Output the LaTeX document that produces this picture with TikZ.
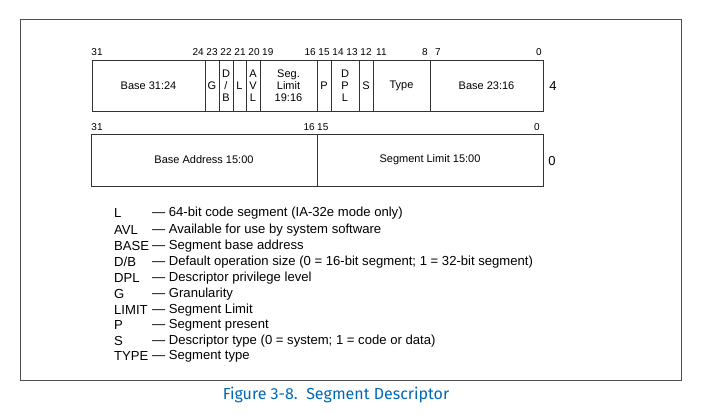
\documentclass[tikz,border=0pt]{standalone}
\usepackage{fontspec}
\setmainfont{Liberation Sans}
\newfontfamily\capfont{Fira Sans}
\definecolor{capblue}{RGB}{0,104,181}
\begin{document}
\begin{tikzpicture}[x=1pt,y=-1pt,
  fld/.style={draw=black!80,line width=0.6pt,inner sep=0pt,align=center,font=\fontsize{11}{12}\selectfont},
  bit/.style={font=\fontsize{10}{10}\selectfont,inner sep=0pt},
  leg/.style={font=\fontsize{13.1}{14}\selectfont,inner sep=0pt,anchor=west}]
\useasboundingbox (0,0) rectangle (703,414);
\node[draw=black!70,line width=0.6pt,minimum width=661pt,minimum height=361pt,inner sep=0pt] (frame) at (350.5,199.5) {};
\newcommand\fieldbox[4]{\node[fld,minimum width=#2-#1,minimum height=51pt] (#3) at ({(#1+#2)/2},85.5) {#4};}
\fieldbox{92}{205}{b3124}{Base 31:24}
\fieldbox{205}{219}{g}{G}
\fieldbox{219}{233}{db}{D\\/\\B}
\fieldbox{233}{246}{l}{L}
\fieldbox{246}{260}{avl}{A\\V\\L}
\fieldbox{260}{317}{lim}{Seg.\\Limit\\19:16}
\fieldbox{317}{331}{p}{P}
\fieldbox{331}{359}{dpl}{D\\P\\L}
\fieldbox{359}{373}{s}{S}
\fieldbox{373}{430}{type}{Type}
\fieldbox{430}{543}{b2316}{Base 23:16}
\node[font=\fontsize{13}{13}\selectfont] (four) at (553,86) {4};
\node[fld,minimum width=226pt,minimum height=52pt] (ba) at (204,160) {Base Address 15:00};
\node[fld,minimum width=226pt,minimum height=52pt] (sl) at (430,160) {Segment Limit 15:00};
\node[font=\fontsize{13}{13}\selectfont] (zero) at (552,161) {0};
\node[bit] (t31) at (97,52) {31};
\node[bit,anchor=east] (t24) at (204,52) {24};
\node[bit] (t23) at (212,52) {23};
\node[bit] (t22) at (226,52) {22};
\node[bit] (t21) at (240,52) {21};
\node[bit] (t20) at (254,52) {20};
\node[bit,anchor=west] (t19) at (262,52) {19};
\node[bit,anchor=east] (t16) at (316,52) {16};
\node[bit] (t15) at (324,52) {15};
\node[bit] (t14) at (338,52) {14};
\node[bit] (t13) at (352,52) {13};
\node[bit] (t12) at (366,52) {12};
\node[bit,anchor=west] (t11) at (376,52) {11};
\node[bit,anchor=east] (t8) at (428,52) {8};
\node[bit] (t7) at (438,52) {7};
\node[bit] (t0) at (539,52) {0};
\node[bit] (u31) at (97,127) {31};
\node[bit,anchor=east] (u16) at (315,127) {16};
\node[bit,anchor=west] (u15) at (317,127) {15};
\node[bit] (u0) at (537,127) {0};
\foreach \i/\k/\t/\y in {1/L/64-bit code segment (IA-32e mode only)/213,
 2/AVL/Available for use by system software/230,
 3/BASE/Segment base address/246,
 4/{D/B}/Default operation size (0 = 16-bit segment; 1 = 32-bit segment)/262,
 5/DPL/Descriptor privilege level/278,
 6/G/Granularity/294,
 7/LIMIT/Segment Limit/310,
 8/P/Segment present/325,
 9/S/Descriptor type (0 = system; 1 = code or data)/341,
 10/TYPE/Segment type/356}{
 \node[leg] (k\i) at (114,\y) {\k};
 \node[leg] (d\i) at (152,\y) {— \t};
}
\node[font=\capfont\fontsize{16}{17}\selectfont,text=capblue] (cap) at (336,395) {Figure 3-8.\ \ Segment Descriptor};
\end{tikzpicture}
\end{document}
